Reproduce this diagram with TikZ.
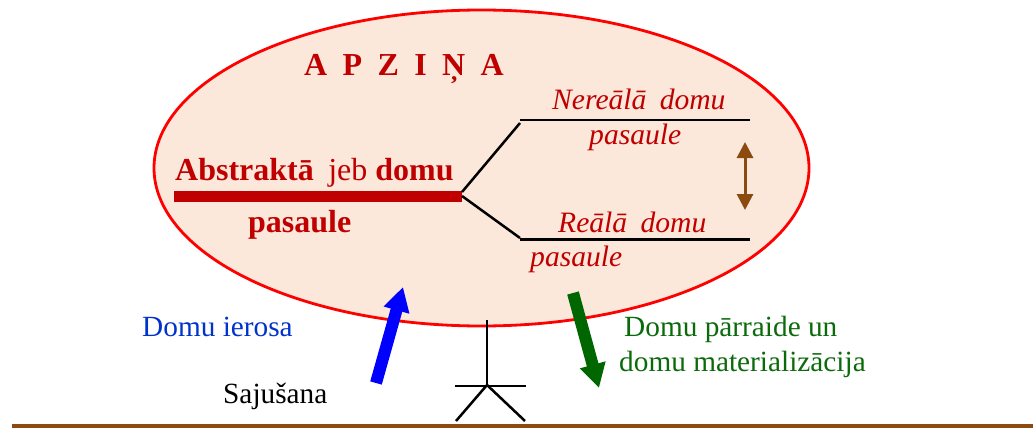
\documentclass[tikz,border=0pt]{standalone}
\usepackage{fontspec}
\setmainfont{Liberation Serif}
\usetikzlibrary{arrows.meta,shapes.geometric}
\definecolor{darkred}{HTML}{C00000}
\definecolor{peach}{HTML}{FBE8DA}
\definecolor{brownline}{HTML}{8B4A10}
\definecolor{textblue}{HTML}{0033CC}
\definecolor{textgreen}{HTML}{0B6B0B}
\definecolor{arrowgreen}{HTML}{006600}
\tikzset{
  lbl/.style={anchor=base west,inner sep=0pt,font=\fontsize{29.3}{29}\selectfont},
  redlbl/.style={lbl,text=darkred},
  itlbl/.style={lbl,text=darkred,font=\fontsize{29.6}{29}\selectfont\itshape},
  blacklink/.style={draw=black,line width=2.5pt},
  bigarrow/.style={line width=12pt,-{Triangle[length=24pt,width=25pt]}},
}
\begin{document}
\begin{tikzpicture}[x=1pt,y=-1pt]
\useasboundingbox (0,0) rectangle (1033,428);
\node[draw=red,fill=peach,line width=2.8pt,ellipse,minimum width=655pt,minimum height=316pt,inner sep=0pt] (mind) at (481.5,168) {};
\node[redlbl,font=\fontsize{32}{32}\selectfont\bfseries] (title) at (304,75) {A\hspace{0.48em}P\hspace{0.48em}Z\hspace{0.48em}I\hspace{0.48em}Ņ\hspace{0.48em}A};
\node[redlbl,font=\fontsize{32}{32}\selectfont] (abstr) at (175,180) {\textbf{Abstraktā}\hspace{0.45em}jeb \textbf{domu}};
\node[redlbl,font=\fontsize{32}{32}\selectfont\bfseries] (pas) at (248,232) {pasaule};
\node[fill=darkred,inner sep=0pt,minimum width=288pt,minimum height=11.5pt,anchor=north west] (bar) at (174,190.5) {};
\coordinate (forkA) at (462,192);
\coordinate (forkB) at (462,196);
\coordinate (upA) at (520,123);
\coordinate (upL) at (520,120);
\coordinate (upR) at (750,120);
\coordinate (loA) at (520,238);
\coordinate (loL) at (520,239.5);
\coordinate (loR) at (750,239.5);
\draw[blacklink] (forkA) -- (upA);
\draw[blacklink] (forkB) -- (loA);
\draw[blacklink] (upL) -- (upR);
\draw[blacklink] (loL) -- (loR);
\node[itlbl] (n1) at (552,109) {Nereālā\hspace{0.45em}domu};
\node[itlbl] (n2) at (589,144) {pasaule};
\node[itlbl] (r1) at (558,232) {Reālā\hspace{0.45em}domu};
\node[itlbl] (r2) at (530,266) {pasaule};
\coordinate (bt) at (745,142);
\coordinate (bb) at (745,210);
\draw[brownline,line width=3pt,{Triangle[length=16pt,width=16pt]}-{Triangle[length=16pt,width=16pt]}] (bt) -- (bb);
\coordinate (blueS) at (376,383);
\coordinate (blueE) at (403,287);
\draw[blue,bigarrow] (blueS) -- (blueE);
\coordinate (greenS) at (573,293);
\coordinate (greenE) at (599,388);
\draw[arrowgreen,bigarrow] (greenS) -- (greenE);
\node[lbl,text=textblue] (ier) at (142,336) {Domu ierosa};
\node[lbl] (saj) at (223,403) {Sajušana};
\node[lbl,text=textgreen] (g1) at (624,336) {Domu pārraide un};
\node[lbl,text=textgreen] (g2) at (619,371) {domu materializācija};
\coordinate (head) at (487,320);
\coordinate (hip) at (487,385);
\coordinate (armL) at (455,386);
\coordinate (armR) at (526,386);
\coordinate (legL) at (456,421);
\coordinate (legR) at (525,421);
\draw[blacklink] (head) -- (hip);
\draw[blacklink] (armL) -- (armR);
\draw[blacklink] (hip) -- (legL);
\draw[blacklink] (hip) -- (legR);
\coordinate (gL) at (12,426);
\coordinate (gR) at (1033,426);
\draw[brownline,line width=3.5pt] (gL) -- (gR);
\end{tikzpicture}
\end{document}
